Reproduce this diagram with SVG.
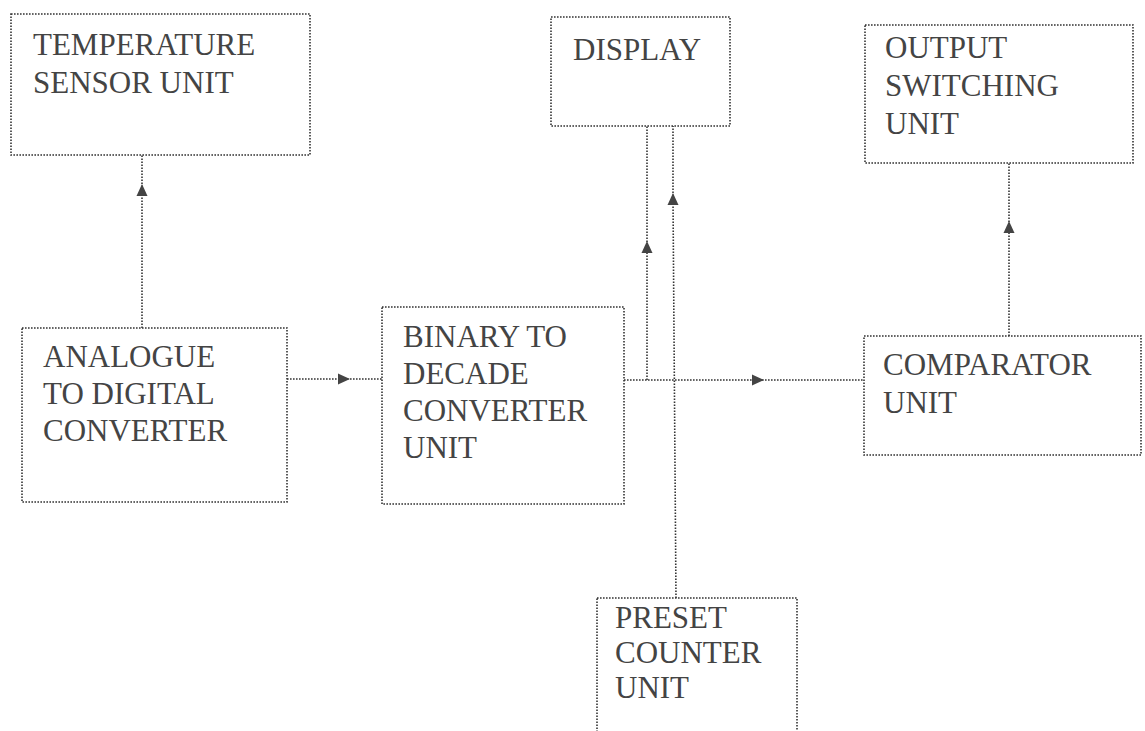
<svg xmlns="http://www.w3.org/2000/svg" width="1145" height="731" viewBox="0 0 1145 731">
<style>
.box{fill:none;stroke:#333;stroke-width:1.6;stroke-dasharray:1.6 1.4}
.ln{fill:none;stroke:#333;stroke-width:1.6;stroke-dasharray:1.6 1.4}
.t{font-family:"Liberation Serif","Times New Roman",serif;font-size:31px;fill:#444}
</style>
<defs>
<marker id="ah" markerWidth="14" markerHeight="14" refX="7" refY="7" orient="auto" markerUnits="userSpaceOnUse">
<path d="M1,1.5 L13,7 L1,12.5 Z" fill="#444"/>
</marker>
</defs>
<rect width="1145" height="731" fill="#fff"/>
<g id="temperature-sensor">
<rect class="box" x="11" y="14" width="299" height="141"/>
<text class="t" x="33" y="55">TEMPERATURE</text>
<text class="t" x="33" y="93">SENSOR UNIT</text>
</g>
<g id="display">
<rect class="box" x="551" y="17" width="179" height="109"/>
<text class="t" x="573" y="60">DISPLAY</text>
</g>
<g id="output-switching">
<rect class="box" x="865" y="25" width="268" height="138"/>
<text class="t" x="885" y="58">OUTPUT</text>
<text class="t" x="885" y="96">SWITCHING</text>
<text class="t" x="885" y="134">UNIT</text>
</g>
<g id="adc">
<rect class="box" x="22" y="328" width="265" height="174"/>
<text class="t" x="43" y="367">ANALOGUE</text>
<text class="t" x="43" y="404">TO DIGITAL</text>
<text class="t" x="43" y="441">CONVERTER</text>
</g>
<g id="binary-decade">
<rect class="box" x="382" y="307" width="242" height="197"/>
<text class="t" x="403" y="347">BINARY TO</text>
<text class="t" x="403" y="384">DECADE</text>
<text class="t" x="403" y="421">CONVERTER</text>
<text class="t" x="403" y="458">UNIT</text>
</g>
<g id="comparator">
<rect class="box" x="864" y="336" width="277" height="119"/>
<text class="t" x="883" y="375">COMPARATOR</text>
<text class="t" x="883" y="413">UNIT</text>
</g>
<g id="preset-counter">
<rect class="box" x="597" y="598" width="200" height="140"/>
<text class="t" x="615" y="628">PRESET</text>
<text class="t" x="615" y="663">COUNTER</text>
<text class="t" x="615" y="698">UNIT</text>
</g>
<g id="connectors">
<path class="ln" d="M142 328 L142 190 L142 155" marker-mid="url(#ah)"/>
<path class="ln" d="M287 379 L344 379 L382 379" marker-mid="url(#ah)"/>
<path class="ln" d="M624 380 L758 380 L864 380" marker-mid="url(#ah)"/>
<path class="ln" d="M647 380 L647 247 L647 126" marker-mid="url(#ah)"/>
<path class="ln" d="M676 598 L673 199 L673 126" marker-mid="url(#ah)"/>
<path class="ln" d="M1009 336 L1009 227 L1009 163" marker-mid="url(#ah)"/>
</g>
</svg>
